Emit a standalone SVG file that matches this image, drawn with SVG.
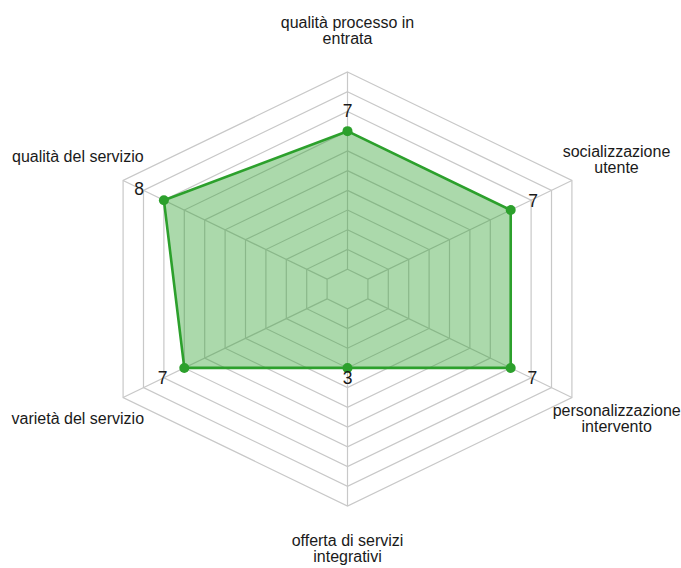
<svg xmlns="http://www.w3.org/2000/svg" width="681" height="568" viewBox="0 0 681 568">
<style>
.ring{fill:none;stroke:#c8c8c8;stroke-width:1.2}
.spoke{stroke:#c8c8c8;stroke-width:1.2}
.area{fill:#2ca02c;fill-opacity:0.4;stroke:#2ca02c;stroke-width:2.6;stroke-linejoin:round}
.pt{fill:#2ca02c}
.axis{font-family:"Liberation Sans",Arial,Helvetica,sans-serif;font-size:16px;fill:#1a1a1a;text-anchor:middle}
.val{font-family:"Liberation Sans",Arial,Helvetica,sans-serif;font-size:17.5px;fill:#1a1a1a;text-anchor:middle}
</style>
<rect width="681" height="568" fill="#ffffff"/>
<g id="grid">
<polygon class="ring" points="347.5,269.27 367.90,279.13 367.90,298.87 347.5,308.73 327.10,298.87 327.10,279.13"/>
<polygon class="ring" points="347.5,249.54 388.30,269.27 388.30,308.73 347.5,328.46 306.70,308.73 306.70,269.27"/>
<polygon class="ring" points="347.5,229.81 408.70,259.40 408.70,318.60 347.5,348.19 286.30,318.60 286.30,259.40"/>
<polygon class="ring" points="347.5,210.08 429.10,249.54 429.10,328.46 347.5,367.92 265.90,328.46 265.90,249.54"/>
<polygon class="ring" points="347.5,190.35 449.50,239.67 449.50,338.33 347.5,387.65 245.50,338.33 245.50,239.67"/>
<polygon class="ring" points="347.5,170.62 469.90,229.81 469.90,348.19 347.5,407.38 225.10,348.19 225.10,229.81"/>
<polygon class="ring" points="347.5,150.89 490.30,219.94 490.30,358.06 347.5,427.11 204.70,358.06 204.70,219.94"/>
<polygon class="ring" points="347.5,131.16 510.71,210.08 510.71,367.92 347.5,446.84 184.29,367.92 184.29,210.08"/>
<polygon class="ring" points="347.5,111.43 531.11,200.21 531.11,377.79 347.5,466.57 163.89,377.79 163.89,200.21"/>
<polygon class="ring" points="347.5,91.70 551.51,190.35 551.51,387.65 347.5,486.30 143.49,387.65 143.49,190.35"/>
<polygon class="ring" points="347.5,71.97 571.91,180.48 571.91,397.52 347.5,506.03 123.09,397.52 123.09,180.48"/>
<line class="spoke" x1="347.5" y1="269.27" x2="347.5" y2="71.97"/>
<line class="spoke" x1="367.90" y1="279.13" x2="571.91" y2="180.48"/>
<line class="spoke" x1="367.90" y1="298.87" x2="571.91" y2="397.52"/>
<line class="spoke" x1="347.5" y1="308.73" x2="347.5" y2="506.03"/>
<line class="spoke" x1="327.10" y1="298.87" x2="123.09" y2="397.52"/>
<line class="spoke" x1="327.10" y1="279.13" x2="123.09" y2="180.48"/>
</g>
<g id="data">
<polygon class="area" points="347.5,131.16 510.71,210.08 510.71,367.92 347.5,367.92 184.29,367.92 163.89,200.21"/>
<circle class="pt" cx="347.5" cy="131.16" r="5"/>
<circle class="pt" cx="510.71" cy="210.08" r="5"/>
<circle class="pt" cx="510.71" cy="367.92" r="5"/>
<circle class="pt" cx="347.5" cy="367.92" r="5"/>
<circle class="pt" cx="184.29" cy="367.92" r="5"/>
<circle class="pt" cx="163.89" cy="200.21" r="5"/>
</g>
<g id="values">
<text class="val" x="347.5" y="117.3">7</text>
<text class="val" x="533" y="206.7">7</text>
<text class="val" x="532.3" y="384.2">7</text>
<text class="val" x="347.5" y="383.5">3</text>
<text class="val" x="162.5" y="384.3">7</text>
<text class="val" x="139.2" y="195">8</text>
</g>
<g id="axis-labels">
<text class="axis" x="347.5" y="27.8">qualità processo in</text>
<text class="axis" x="347.5" y="44.2">entrata</text>
<text class="axis" x="616.5" y="156.5">socializzazione</text>
<text class="axis" x="616.5" y="173">utente</text>
<text class="axis" x="616.7" y="415.5">personalizzazione</text>
<text class="axis" x="616.7" y="432.2">intervento</text>
<text class="axis" x="347.5" y="545.5">offerta di servizi</text>
<text class="axis" x="347.5" y="562">integrativi</text>
<text class="axis" x="77.8" y="424.3">varietà del servizio</text>
<text class="axis" x="77.8" y="162">qualità del servizio</text>
</g>
</svg>
